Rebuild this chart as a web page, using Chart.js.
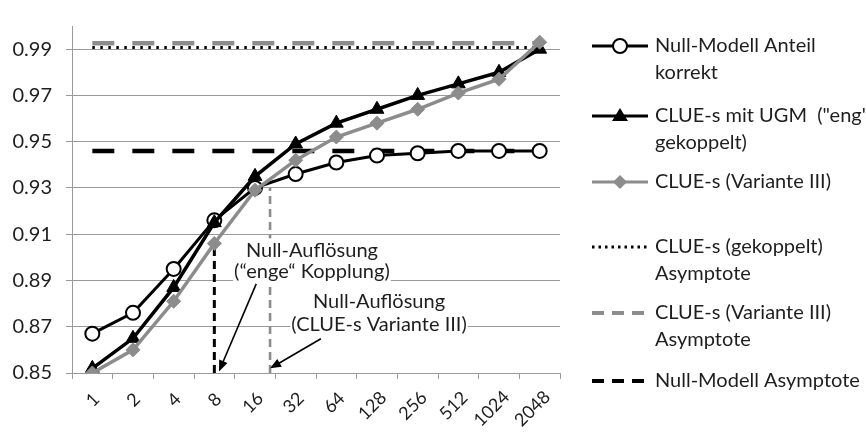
<!DOCTYPE html>
<html>
<head>
<meta charset="utf-8">
<script src="https://cdn.jsdelivr.net/npm/chart.js@4.4.1/dist/chart.umd.min.js"></script>
<style>
  html, body { margin: 0; padding: 0; background: #fff; }
  #wrap { width: 866px; height: 439px; position: relative; }
</style>
</head>
<body>
<div id="wrap"><canvas id="c" width="866" height="439"></canvas></div>
<script>
// Number of cells (log2 steps) on the x axis
const categories = ['1', '2', '4', '8', '16', '32', '64', '128', '256', '512', '1024', '2048'];

// Share of correct cells per aggregation level
const nullModel = [0.867, 0.876, 0.895, 0.916, 0.930, 0.936, 0.941, 0.944, 0.945, 0.946, 0.946, 0.946];
const clueUgm   = [0.852, 0.865, 0.887, 0.915, 0.935, 0.949, 0.958, 0.964, 0.970, 0.975, 0.980, 0.990];
const clueVar3  = [0.850, 0.860, 0.881, 0.906, 0.929, 0.942, 0.952, 0.958, 0.964, 0.971, 0.977, 0.993];

// Asymptotes
const asymCoupled = 0.9907;
const asymVar3 = 0.9925;
const asymNull = 0.946;

const yTicks = [0.85, 0.87, 0.89, 0.91, 0.93, 0.95, 0.97, 0.99];

// Null resolution markers: category position and upper end of the drop line
const resolutionX = [3, 4.37];
const resolutionTop = [0.907, 0.930];

// Annotation texts
const noteLines = [
  ['Null-Auflösung', '(\u201Cenge\u201C Kopplung)'],
  ['Null-Auflösung', '(CLUE-s Variante III)']
];

const legendLabels = [
  ['Null-Modell Anteil', 'korrekt'],
  ['CLUE-s mit UGM  ("eng"', 'gekoppelt)'],
  ['CLUE-s (Variante III)'],
  ['CLUE-s (gekoppelt)', 'Asymptote'],
  ['CLUE-s (Variante III)', 'Asymptote'],
  ['Null-Modell Asymptote']
];

const BLACK = '#000000';
const GREY = '#8c8c8c';
const GRID = '#9a9a9a';
const TEXT = '#1e1e1e';
const FONT = 'Lato, "Open Sans", sans-serif';

function flat(v) { return categories.map(() => v); }

// Annotation layout in data units (category index, value)
const notePlacement = [
  { x: 5.40, y: [0.903, 0.894], from: [4.03, 0.8885], to: [3.115, 0.8507] },
  { x: 7.05, y: [0.881, 0.8708], from: [5.62, 0.8648], to: [4.37, 0.852] }
];

function arrow(ctx, x1, y1, x2, y2) {
  const ang = Math.atan2(y2 - y1, x2 - x1);
  const len = 11, half = 4.5;
  ctx.save();
  ctx.strokeStyle = BLACK;
  ctx.fillStyle = BLACK;
  ctx.lineWidth = 1.6;
  ctx.beginPath();
  ctx.moveTo(x1, y1);
  ctx.lineTo(x2 - Math.cos(ang) * len * 0.8, y2 - Math.sin(ang) * len * 0.8);
  ctx.stroke();
  ctx.beginPath();
  ctx.moveTo(x2, y2);
  ctx.lineTo(x2 - Math.cos(ang) * len + Math.sin(ang) * half, y2 - Math.sin(ang) * len - Math.cos(ang) * half);
  ctx.lineTo(x2 - Math.cos(ang) * len - Math.sin(ang) * half, y2 - Math.sin(ang) * len + Math.cos(ang) * half);
  ctx.closePath();
  ctx.fill();
  ctx.restore();
}

const annotations = {
  id: 'annotations',
  beforeDatasetsDraw(chart) {
    const { ctx, scales: { x, y } } = chart;
    // drop lines
    const colors = [BLACK, GREY];
    const widths = [3, 2.6];
    resolutionX.forEach((rx, i) => {
      ctx.save();
      ctx.strokeStyle = colors[i];
      ctx.lineWidth = widths[i];
      ctx.setLineDash([8, 5]);
      ctx.beginPath();
      ctx.moveTo(x.getPixelForValue(rx), y.getPixelForValue(0.85));
      ctx.lineTo(x.getPixelForValue(rx), y.getPixelForValue(resolutionTop[i]));
      ctx.stroke();
      ctx.restore();
    });
    // text boxes
    ctx.save();
    ctx.font = '20px ' + FONT;
    ctx.textAlign = 'center';
    ctx.textBaseline = 'middle';
    noteLines.forEach((lines, i) => {
      const p = notePlacement[i];
      const cx = x.getPixelForValue(p.x);
      lines.forEach((t, j) => {
        const cy = y.getPixelForValue(p.y[j]);
        const w = ctx.measureText(t).width;
        ctx.fillStyle = '#ffffff';
        ctx.fillRect(cx - w / 2 - 1, cy - 12, w + 2, 24);
      });
      lines.forEach((t, j) => {
        const cy = y.getPixelForValue(p.y[j]);
        ctx.fillStyle = TEXT;
        ctx.fillText(t, cx, cy);
      });
      arrow(ctx, x.getPixelForValue(p.from[0]), y.getPixelForValue(p.from[1]),
                 x.getPixelForValue(p.to[0]), y.getPixelForValue(p.to[1]));
    });
    ctx.restore();
  },
  afterDraw(chart) {
    const { ctx, scales: { x } } = chart;
    // rotated category labels
    ctx.save();
    ctx.font = '18px ' + FONT;
    ctx.fillStyle = TEXT;
    ctx.textAlign = 'center';
    ctx.textBaseline = 'middle';
    categories.forEach((c, i) => {
      const w = ctx.measureText(c).width;
      const cx = x.getPixelForValue(i) + 3.2 - 0.25 * w;
      const cy = 397 + 0.28 * w;
      ctx.save();
      ctx.translate(cx, cy);
      ctx.rotate(-Math.PI / 4);
      ctx.fillText(c, 0, 0);
      ctx.restore();
    });
    ctx.restore();

    // legend
    const lx0 = 592, lx1 = 648, mx = 620, tx = 655;
    const rows = [46, 116, 182, 247, 313, 381];
    const lineGap = 27;
    ctx.save();
    rows.forEach((ry, i) => {
      ctx.save();
      ctx.lineCap = 'butt';
      if (i === 0 || i === 1) {
        ctx.strokeStyle = BLACK; ctx.lineWidth = 3;
        ctx.beginPath(); ctx.moveTo(lx0, ry); ctx.lineTo(lx1, ry); ctx.stroke();
        if (i === 0) {
          ctx.fillStyle = '#fff'; ctx.lineWidth = 2;
          ctx.beginPath(); ctx.arc(mx, ry, 7, 0, Math.PI * 2); ctx.fill(); ctx.stroke();
        } else {
          ctx.fillStyle = BLACK;
          ctx.beginPath(); ctx.moveTo(mx, ry - 8); ctx.lineTo(mx + 8, ry + 5); ctx.lineTo(mx - 8, ry + 5); ctx.closePath(); ctx.fill();
        }
      } else if (i === 2) {
        ctx.strokeStyle = GREY; ctx.lineWidth = 3;
        ctx.beginPath(); ctx.moveTo(lx0, ry); ctx.lineTo(lx1, ry); ctx.stroke();
        ctx.fillStyle = GREY;
        ctx.beginPath(); ctx.moveTo(mx, ry - 7); ctx.lineTo(mx + 7, ry); ctx.lineTo(mx, ry + 7); ctx.lineTo(mx - 7, ry); ctx.closePath(); ctx.fill();
      } else if (i === 3) {
        ctx.strokeStyle = BLACK; ctx.lineWidth = 3; ctx.setLineDash([2.5, 4]);
        ctx.beginPath(); ctx.moveTo(lx0, ry); ctx.lineTo(lx1, ry); ctx.stroke();
      } else {
        ctx.strokeStyle = i === 4 ? GREY : BLACK; ctx.lineWidth = 4; ctx.setLineDash([12, 8]);
        ctx.beginPath(); ctx.moveTo(lx0, ry); ctx.lineTo(lx1 + 2, ry); ctx.stroke();
      }
      ctx.restore();
      ctx.font = '20px ' + FONT;
      ctx.fillStyle = TEXT;
      ctx.textAlign = 'left';
      ctx.textBaseline = 'middle';
      legendLabels[i].forEach((t, j) => ctx.fillText(t, tx, ry + j * lineGap));
    });
    ctx.restore();
  }
};

const baseLine = { pointRadius: 0, pointHoverRadius: 0, fill: false, tension: 0 };

new Chart(document.getElementById('c'), {
  type: 'line',
  data: {
    labels: categories,
    datasets: [
      { label: 'CLUE-s (Variante III)', data: clueVar3, order: 0,
        borderColor: GREY, backgroundColor: GREY, borderWidth: 3.5,
        pointStyle: 'rectRot', pointRadius: 7, pointBorderWidth: 1, pointBackgroundColor: GREY, pointBorderColor: GREY },
      { label: 'CLUE-s mit UGM ("eng" gekoppelt)', data: clueUgm, order: 1,
        borderColor: BLACK, backgroundColor: BLACK, borderWidth: 3.5,
        pointStyle: 'triangle', pointRadius: 8, pointBorderWidth: 1, pointBackgroundColor: BLACK, pointBorderColor: BLACK },
      { label: 'Null-Modell Anteil korrekt', data: nullModel, order: 2,
        borderColor: BLACK, backgroundColor: '#fff', borderWidth: 3,
        pointStyle: 'circle', pointRadius: 7, pointBorderWidth: 2, pointBackgroundColor: '#fff', pointBorderColor: BLACK },
      Object.assign({ label: 'CLUE-s (gekoppelt) Asymptote', data: flat(asymCoupled), order: 3,
        borderColor: BLACK, borderWidth: 3, borderDash: [2.5, 5.5] }, baseLine),
      Object.assign({ label: 'CLUE-s (Variante III) Asymptote', data: flat(asymVar3), order: 4,
        borderColor: GREY, borderWidth: 4.5, borderDash: [22, 18] }, baseLine),
      Object.assign({ label: 'Null-Modell Asymptote', data: flat(asymNull), order: 5,
        borderColor: BLACK, borderWidth: 4.5, borderDash: [22, 18] }, baseLine)
    ]
  },
  options: {
    responsive: false,
    animation: false,
    devicePixelRatio: 1,
    layout: { padding: { top: 12, right: 306, left: 0, bottom: 0 } },
    plugins: { legend: { display: false }, tooltip: { enabled: false } },
    events: [],
    scales: {
      x: {
        offset: true,
        grid: { offset: true, drawOnChartArea: false, drawTicks: true, tickLength: 6, color: GRID, lineWidth: 1 },
        border: { color: GRID, width: 1 },
        ticks: { display: false },
        afterFit: s => { s.height = 66; }
      },
      y: {
        min: 0.85,
        max: 1.0,
        afterBuildTicks: s => { s.ticks = yTicks.map(v => ({ value: v })); },
        afterFit: s => { s.width = 72; },
        grid: { color: GRID, lineWidth: 1, tickLength: 6, drawTicks: true },
        border: { color: GRID, width: 1 },
        ticks: { padding: 14, color: TEXT, font: { family: FONT, size: 20 }, callback: v => Number(v).toFixed(2) }
      }
    }
  },
  plugins: [annotations]
});
</script>
</body>
</html>
